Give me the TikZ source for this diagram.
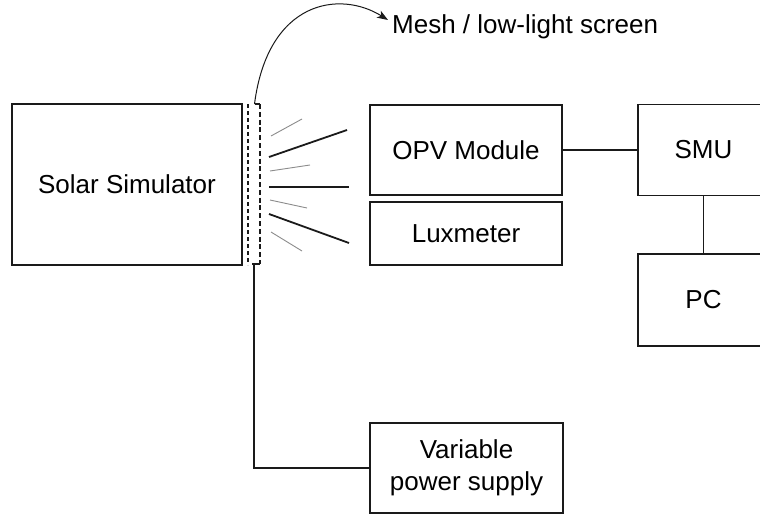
\documentclass[tikz,border=0pt]{standalone}
\usepackage{fontspec}
\setmainfont{Liberation Sans}
\usetikzlibrary{arrows.meta}
\definecolor{ink}{HTML}{1A1A1A}
\definecolor{ray}{HTML}{8C8C8C}
\begin{document}
\begin{tikzpicture}[x=1pt,y=-1pt,
  box/.style={draw=ink, line width=1.5pt, inner sep=0pt, align=center,
    font=\fontsize{26}{32}\selectfont, text=black},
  wire/.style={draw=ink, line width=1.5pt},
  thickray/.style={draw=ink, line width=1.8pt},
  thinray/.style={draw=ray, line width=0.9pt},
  meshline/.style={draw=ink, dash pattern=on 4pt off 3pt}]
\useasboundingbox (0,0) rectangle (760,514);
\clip (0,0) rectangle (760,514);
\fill[white] (0,0) rectangle (760,514);

% boxes
\node[box, minimum width=230pt, minimum height=161pt] (sim) at (127,184.5) {Solar Simulator};
\node[box, minimum width=192pt, minimum height=90pt] (opv) at (466,150) {OPV Module};
\node[box, minimum width=192pt, minimum height=63pt] (lux) at (466,233.5) {Luxmeter};
\node[box, minimum width=131pt, minimum height=91pt] (smu) at (703.5,150) {SMU};
\node[box, minimum width=131pt, minimum height=92pt] (pc) at (703.5,300) {PC};
\node[box, minimum width=193pt, minimum height=90pt] (ps) at (466.5,468) {Variable\\power supply};
\node[anchor=base west, inner sep=0pt, font=\fontsize{26}{32}\selectfont] (meshlabel) at (392,33) {Mesh / low-light screen};

% mesh screen
\coordinate (mlt) at (248,104);
\coordinate (mlb) at (248,265);
\coordinate (mrt) at (260,104);
\coordinate (mrb) at (260,264);
\coordinate (mtopl) at (254.5,104);
\coordinate (mbotl) at (252,264);
\coordinate (pwr) at (254,264);
\coordinate (arrtip) at (388,20);
\draw[meshline, line width=1.2pt] (mlt) -- (mlb);
\draw[meshline, line width=1.9pt, dash pattern=on 5pt off 2.8pt] (mrt) -- (mrb);
\draw[wire] (mtopl) -- (mrt);
\draw[wire] (mbotl) -- (mrb);

% curved arrow to label
\draw[ink, line width=1pt, -{Stealth[length=11pt,width=8pt,inset=3pt]}]
  (mtopl) .. controls (268,0) and (340,-10) .. (arrtip);

% light rays
\coordinate (r1a) at (269,157); \coordinate (r1b) at (347,130);
\coordinate (r2a) at (269,187); \coordinate (r2b) at (349,187);
\coordinate (r3a) at (269,214); \coordinate (r3b) at (349,243);
\draw[thickray] (r1a) -- (r1b);
\draw[thickray] (r2a) -- (r2b);
\draw[thickray] (r3a) -- (r3b);
\coordinate (t1a) at (271,136); \coordinate (t1b) at (302,119);
\coordinate (t2a) at (270,171); \coordinate (t2b) at (310,165);
\coordinate (t3a) at (270,200); \coordinate (t3b) at (307,208);
\coordinate (t4a) at (271,232); \coordinate (t4b) at (302,251);
\draw[thinray] (t1a) -- (t1b);
\draw[thinray] (t2a) -- (t2b);
\draw[thinray] (t3a) -- (t3b);
\draw[thinray] (t4a) -- (t4b);

% connectors
\draw[wire] (opv.east) -- (smu.west);
\draw[wire] (smu.south) -- (pc.north);
\draw[wire] (pwr) |- (ps.west);
\end{tikzpicture}
\end{document}
